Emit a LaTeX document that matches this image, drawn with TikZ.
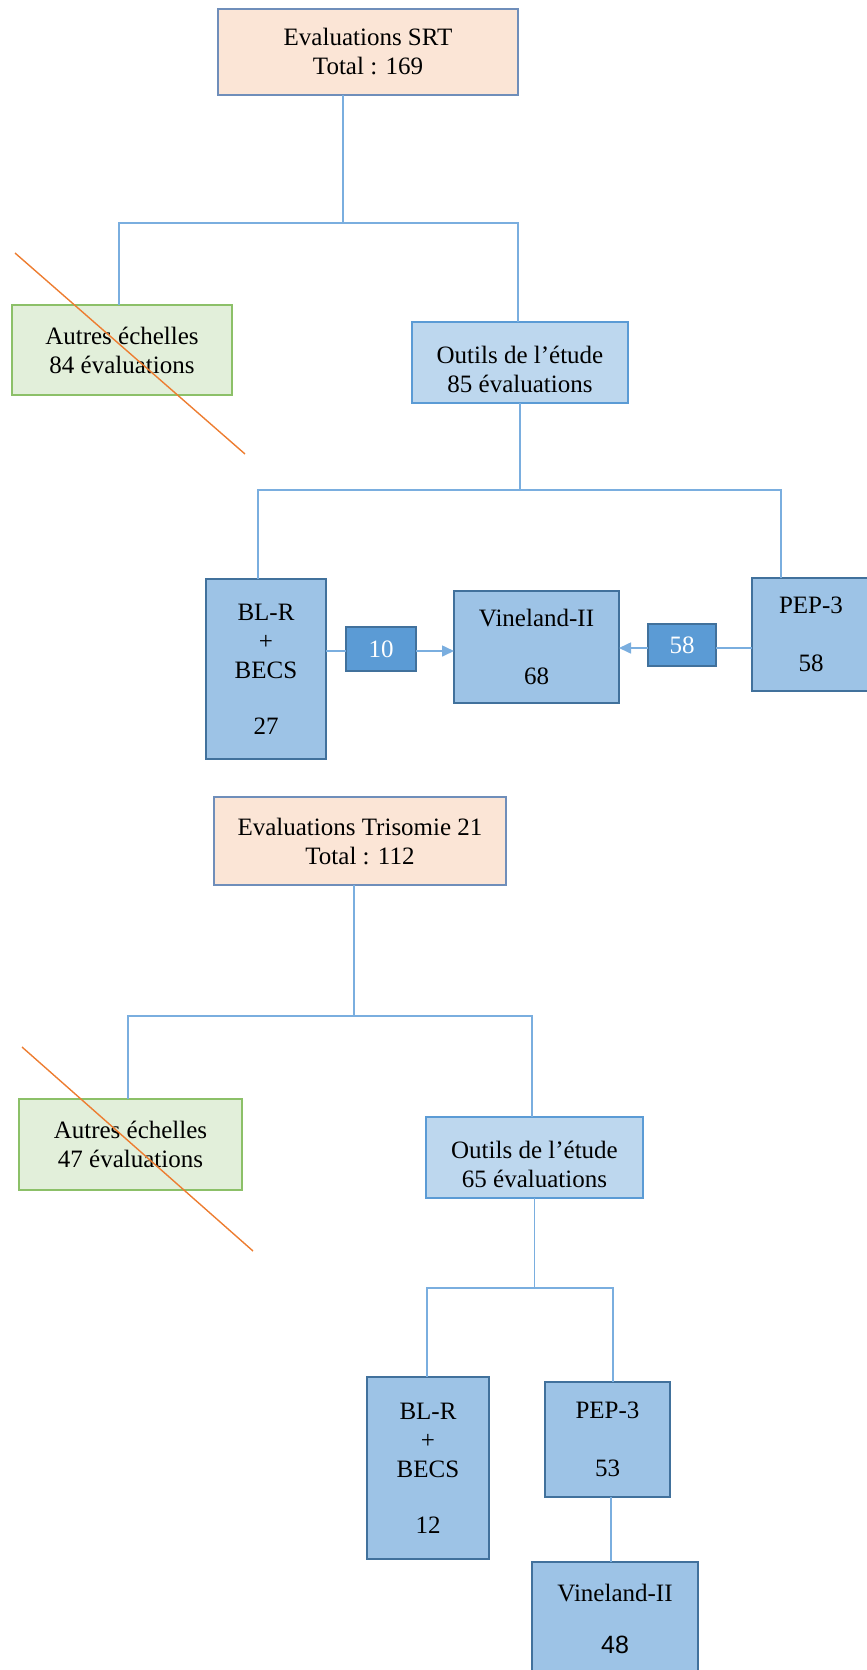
\documentclass[tikz,border=0pt]{standalone}
\usepackage{fontspec}
\setmainfont{Liberation Serif}
\newfontfamily\arialfont{Liberation Sans}
\usepackage{xcolor}
\usepackage{tikz}
\usetikzlibrary{positioning}
\usetikzlibrary{arrows.meta}
\definecolor{peach}{HTML}{FBE5D6}
\definecolor{greyblue}{HTML}{6F8EBA}
\definecolor{lightgreen}{HTML}{E2EFDA}
\definecolor{midgreen}{HTML}{8CC068}
\definecolor{paleblue}{HTML}{BDD7EE}
\definecolor{brightblue}{HTML}{5B9BD5}
\definecolor{toolblue}{HTML}{9DC3E6}
\definecolor{darkblue}{HTML}{41719C}
\definecolor{linkblue}{HTML}{7AAEDF}
\definecolor{crossorange}{HTML}{ED7D31}
\newcommand{\lowstrut}{\rule{0pt}{31pt}}

\begin{document}
\begin{tikzpicture}[
	x=1pt, y=-1pt,
	font=\fontsize{25}{29}\selectfont
]
\tikzset{
    mybox/.style = {rectangle, align=center, anchor=north west, inner sep=0pt, outer sep=0pt, line width=1.4pt},
    totalbox/.style = {mybox, draw=greyblue, fill=peach},
    otherbox/.style = {mybox, draw=midgreen, fill=lightgreen},
    studybox/.style = {mybox, draw=brightblue, fill=paleblue, line width=2pt},
    toolbox/.style = {mybox, draw=darkblue, fill=toolblue},
    countbox/.style = {mybox, draw=darkblue, fill=brightblue, text=white},
    link/.style = {draw=linkblue, line width=1.6pt},
    crossout/.style = {draw=crossorange, line width=1.4pt}
}
\useasboundingbox (0,0) rectangle (867,1670);

% SRT
\node[totalbox,minimum width=300,minimum height=86] (srt) at (218,9) {Evaluations SRT\\Total : 169};
\node[otherbox,minimum width=220,minimum height=90] (autres1) at (12,305) {Autres échelles\\84 évaluations};
\node[studybox,minimum width=216,minimum height=81] (outils1) at (412,322) {\lowstrut Outils de l’étude\\85 évaluations};
\node[toolbox,minimum width=120,minimum height=180] (blr1) at (206,579) {BL-R\\+\\BECS\\[27pt]27};
\node[countbox,minimum width=70,minimum height=44] (n10) at (346,627) {10};
\node[toolbox,minimum width=165,minimum height=112] (vine1) at (454,591) {Vineland-II\\[29pt]68};
\node[countbox,minimum width=68,minimum height=42] (n58) at (648,624) {58};
\node[toolbox,minimum width=118,minimum height=113] (pep1) at (752,578) {PEP-3\\[29pt]58};

\coordinate (fl1) at (119,223);
\coordinate (fm1) at (343,223);
\coordinate (fr1) at (518,223);
\draw[link] (fm1 |- srt.south) -- (fm1);
\draw[link] (fl1 |- autres1.north) -- (fl1) -- (fr1) -- (fr1 |- outils1.north);
\coordinate (fl2) at (258,490);
\coordinate (fr2) at (781,490);
\draw[link] (outils1.south) -- (outils1.south |- fl2);
\draw[link] (fl2 |- blr1.north) -- (fl2) -- (fr2) -- (fr2 |- pep1.north);
\draw[link] (blr1.east |- 0,651) -- (n10.west |- 0,651);
\draw[link,-{Triangle[length=12pt,width=11pt]}] (n10.east |- 0,651) -- (vine1.west |- 0,651);
\draw[link] (pep1.west |- 0,648) -- (n58.east |- 0,648);
\draw[link,-{Triangle[length=12pt,width=11pt]}] (n58.west |- 0,648) -- (vine1.east |- 0,648);
\draw[crossout] (15,253) -- (245,454);

% Trisomie 21
\node[totalbox,minimum width=292,minimum height=88] (t21) at (214,797) {Evaluations Trisomie 21\\Total : 112};
\node[otherbox,minimum width=223,minimum height=91] (autres2) at (19,1099) {Autres échelles\\47 évaluations};
\node[studybox,minimum width=217,minimum height=81] (outils2) at (426,1117) {\lowstrut Outils de l’étude\\65 évaluations};
\node[toolbox,minimum width=122,minimum height=182] (blr2) at (367,1377) {BL-R\\+\\BECS\\[27pt]12};
\node[toolbox,minimum width=125,minimum height=115] (pep2) at (545,1382) {PEP-3\\[29pt]53};
\node[toolbox,minimum width=166,minimum height=114] (vine2) at (532,1562) {Vineland-II\\[23pt]{\arialfont 48}};

\coordinate (fl3) at (128,1016);
\coordinate (fm3) at (354,1016);
\coordinate (fr3) at (532,1016);
\draw[link] (fm3 |- t21.south) -- (fm3);
\draw[link] (fl3 |- autres2.north) -- (fl3) -- (fr3) -- (fr3 |- outils2.north);
\coordinate (fl4) at (427,1288);
\coordinate (fr4) at (613,1288);
\draw[link] (outils2.south) -- (outils2.south |- fl4);
\draw[link] (fl4 |- blr2.north) -- (fl4) -- (fr4) -- (fr4 |- pep2.north);
\draw[link] (pep2.south -| 611,0) -- (vine2.north -| 611,0);
\draw[crossout] (22,1047) -- (253,1251);
\end{tikzpicture}
\end{document}
